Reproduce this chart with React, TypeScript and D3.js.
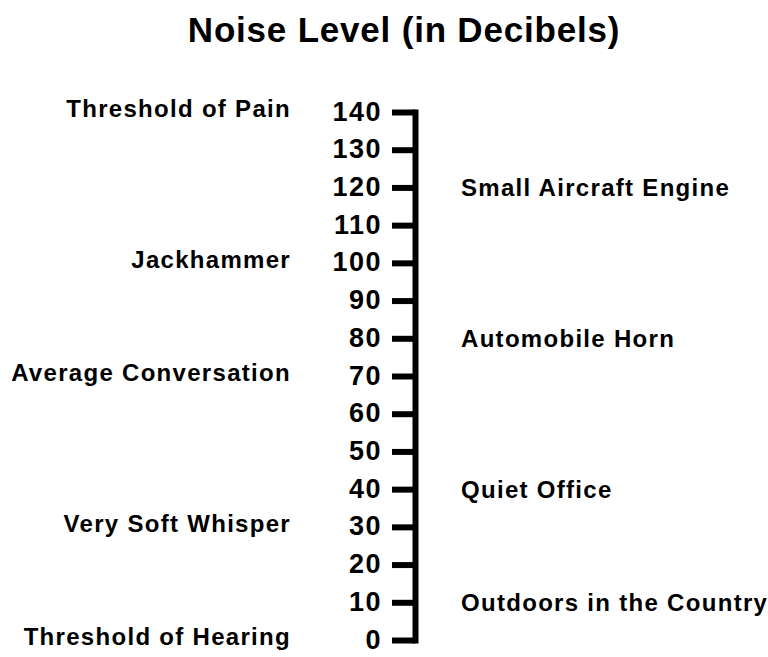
import { useEffect, useRef } from 'react';
import * as d3 from 'd3';

const title = 'Noise Level (in Decibels)';
const tickValues = [0, 10, 20, 30, 40, 50, 60, 70, 80, 90, 100, 110, 120, 130, 140];

const leftNames = ['Threshold of Pain', 'Jackhammer', 'Average Conversation', 'Very Soft Whisper', 'Threshold of Hearing'];
const leftLevels = [140, 100, 70, 30, 0];

const rightNames = ['Small Aircraft Engine', 'Automobile Horn', 'Quiet Office', 'Outdoors in the Country'];
const rightLevels = [120, 80, 40, 10];

export default function App() {
  const svgRef = useRef<SVGSVGElement>(null);

  useEffect(() => {
    if (!svgRef.current) return;
    const svg = d3.select(svgRef.current);
    svg.selectAll('*').remove();

    const width = 768;
    const height = 657;
    const axisX = 415;
    const font = '"Liberation Sans", Arial, sans-serif';

    svg.append('rect').attr('width', width).attr('height', height).attr('fill', '#fff');

    const y = d3.scaleLinear().domain([0, 140]).range([640, 112]);

    svg.append('text')
      .attr('x', 404)
      .attr('y', 42)
      .attr('text-anchor', 'middle')
      .attr('font-family', font)
      .attr('font-weight', 'bold')
      .attr('font-size', 35)
      .attr('letter-spacing', 0.8)
      .attr('fill', '#000')
      .text(title);

    const axis = d3.axisLeft(y)
      .tickValues(tickValues)
      .tickFormat(d3.format('d'))
      .tickSizeInner(23)
      .tickSizeOuter(0)
      .tickPadding(10);

    const g = svg.append('g')
      .attr('transform', `translate(${axisX},0)`)
      .call(axis);

    g.select('.domain')
      .attr('stroke', '#000')
      .attr('stroke-width', 6)
      .attr('stroke-linecap', 'square');

    g.selectAll('.tick line')
      .attr('stroke', '#000')
      .attr('stroke-width', 6);

    g.selectAll('.tick text')
      .attr('font-family', font)
      .attr('font-weight', 'bold')
      .attr('font-size', 27)
      .attr('letter-spacing', 1.5)
      .attr('fill', '#000')
      .attr('dy', '0.3em');

    svg.append('g')
      .selectAll('text')
      .data(leftNames)
      .join('text')
      .attr('x', 291)
      .attr('y', (_, i) => y(leftLevels[i]) - 3)
      .attr('dy', '0.35em')
      .attr('text-anchor', 'end')
      .attr('font-family', font)
      .attr('font-weight', 'bold')
      .attr('font-size', 24)
      .attr('letter-spacing', 1.3)
      .attr('fill', '#000')
      .text(d => d);

    svg.append('g')
      .selectAll('text')
      .data(rightNames)
      .join('text')
      .attr('x', 461)
      .attr('y', (_, i) => y(rightLevels[i]))
      .attr('dy', '0.35em')
      .attr('text-anchor', 'start')
      .attr('font-family', font)
      .attr('font-weight', 'bold')
      .attr('font-size', 24)
      .attr('letter-spacing', 1.3)
      .attr('fill', '#000')
      .text(d => d);
  }, []);

  return (
    <svg
      ref={svgRef}
      width={768}
      height={657}
      style={{ position: 'absolute', left: 0, top: 0 }}
    />
  );
}
